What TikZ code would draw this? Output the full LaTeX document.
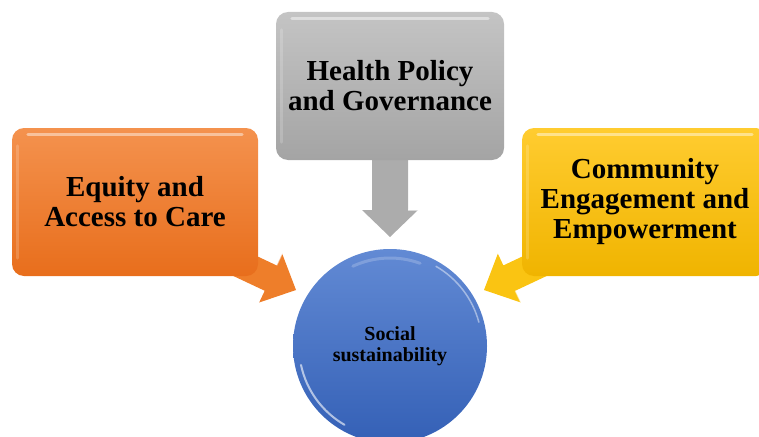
\documentclass[tikz,border=0pt]{standalone}
\usepackage{fontspec}
\setmainfont{Liberation Serif}
\usetikzlibrary{calc}

\definecolor{orangeTop}{RGB}{244,146,78}
\definecolor{orangeBot}{RGB}{232,110,28}
\definecolor{orangeArr}{RGB}{238,126,42}
\definecolor{grayTop}{RGB}{196,196,196}
\definecolor{grayBot}{RGB}{164,164,164}
\definecolor{grayArr}{RGB}{172,172,172}
\definecolor{yellowTop}{RGB}{255,204,48}
\definecolor{yellowBot}{RGB}{240,180,0}
\definecolor{yellowArr}{RGB}{250,196,18}
\definecolor{blueTop}{RGB}{98,138,212}
\definecolor{blueBot}{RGB}{52,96,182}

\tikzset{
  panel/.style={rounded corners=12pt, minimum width=246pt, minimum height=148pt,
    inner sep=0pt, align=center, text=black,
    font=\fontsize{29}{30}\selectfont\bfseries},
  hub/.style={circle, minimum size=194pt, inner sep=0pt, align=center, text=black,
    top color=blueTop, bottom color=blueBot,
    font=\fontsize{20}{21}\selectfont\bfseries},
  gloss/.style={white, line width=3pt, line cap=round, opacity=.45},
}

% callout arrow: #1 start coordinate, #2 tip coordinate,
% #3 shaft half width, #4 head half width, #5 head length, #6 fill colour
\newcommand\calloutarrow[6]{%
  \coordinate (#1-b) at ($(#2)!#5!(#1)$);
  \fill[#6] ($(#1)!#3!-90:(#2)$) -- ($(#1-b)!#3!-90:(#2)$)
    -- ($(#1-b)!#4!-90:(#2)$) -- (#2) -- ($(#1-b)!#4!90:(#2)$)
    -- ($(#1-b)!#3!90:(#2)$) -- ($(#1)!#3!90:(#2)$) -- cycle;
  \draw[white, opacity=.55, line width=1.2pt]
    ($(#1-b)!#4!90:(#2)$) -- ($(#1-b)!#3!90:(#2)$);
}

\begin{document}
\begin{tikzpicture}[x=1pt, y=-1pt]
  \useasboundingbox (0,0) rectangle (759,436);

  % arrow ends
  \coordinate (eqS) at (228,258);  \coordinate (eqT) at (296,290);
  \coordinate (hpS) at (390,140);  \coordinate (hpT) at (390,237);
  \coordinate (ceS) at (552,258);  \coordinate (ceT) at (484,290);

  \calloutarrow{eqS}{eqT}{14pt}{27pt}{28pt}{orangeArr}
  \calloutarrow{hpS}{hpT}{18pt}{28pt}{27pt}{grayArr}
  \calloutarrow{ceS}{ceT}{14pt}{27pt}{28pt}{yellowArr}

  % panels
  \node[panel, top color=orangeTop, bottom color=orangeBot] (eq) at (135,202)
    {Equity and\\Access to Care};
  \node[panel, minimum width=228pt, top color=grayTop, bottom color=grayBot] (hp) at (390,86)
    {Health Policy\\and Governance};
  \node[panel, top color=yellowTop, bottom color=yellowBot] (ce) at (645,202)
    {Community\\Engagement and\\Empowerment};

  % glossy highlights on the panels
  \foreach \p in {eq,hp,ce}{
    \draw[gloss] ($(\p.north west)+(16,7)$) -- ($(\p.north east)+(-16,7)$);
    \draw[gloss, opacity=.18] ($(\p.north west)+(6,18)$) -- ($(\p.south west)+(6,-18)$);
  }

  % central circle
  \node[hub] (ss) at (390,346) {Social\\sustainability};
  \draw[white, opacity=.6, line width=2pt, line cap=round, shift={(ss.center)}, x=1pt, y=1pt]
    (192:91) arc (192:240:91);
  \draw[white, opacity=.45, line width=1.5pt, line cap=round, shift={(ss.center)}, x=1pt, y=1pt]
    (15:92) arc (15:60:92);
  \draw[white, opacity=.2, line width=3pt, line cap=round, shift={(ss.center)}, x=1pt, y=1pt]
    (70:88) arc (70:115:88);
\end{tikzpicture}
\end{document}
